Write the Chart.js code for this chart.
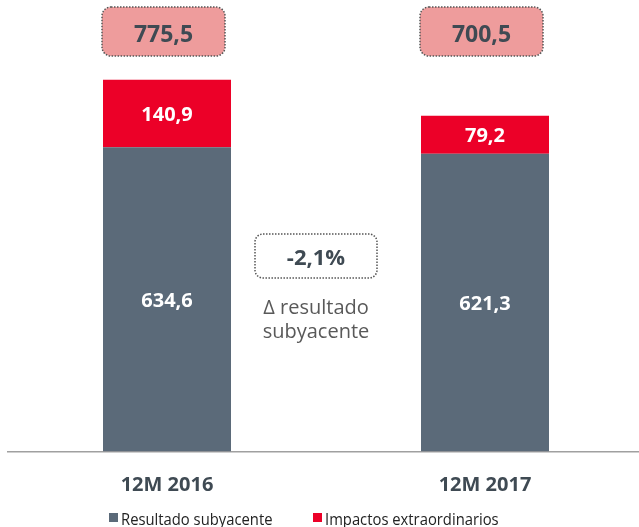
<!DOCTYPE html>
<html><head><meta charset="utf-8">
<script src="https://cdn.jsdelivr.net/npm/chart.js@4/dist/chart.umd.min.js"></script>
<style>html,body{margin:0;padding:0;overflow:hidden;background:#fff;width:639px;height:527px}canvas{display:block}</style>
</head><body>
<canvas id="c" width="650" height="527"></canvas>
<script>
const categories = ['12M 2016', '12M 2017'];
const resultadoSubyacente = [634.6, 621.3];
const impactosExtraordinarios = [140.9, 79.2];
const seriesNames = ['Resultado subyacente', 'Impactos extraordinarios'];
const deltaLines = ['Δ resultado', 'subyacente'];

const GRAY = '#5B6A79', RED = '#EC0028', PINK = '#EE9C9C', DARK = '#3F4A53';
const fmt = v => v.toFixed(1).replace('.', ',');

function roundRect(ctx, x, y, w, h, r) {
  ctx.beginPath();
  ctx.moveTo(x + r, y);
  ctx.arcTo(x + w, y, x + w, y + h, r);
  ctx.arcTo(x + w, y + h, x, y + h, r);
  ctx.arcTo(x, y + h, x, y, r);
  ctx.arcTo(x, y, x + w, y, r);
  ctx.closePath();
}

const annot = {
  id: 'annot',
  afterDatasetsDraw(chart) {
    const ctx = chart.ctx;
    const ds = chart.data.datasets;
    const m0 = chart.getDatasetMeta(0), m1 = chart.getDatasetMeta(1);
    ctx.save();
    // segment labels
    ctx.fillStyle = '#fff';
    ctx.font = 'bold 20px "Open Sans"';
    ctx.textAlign = 'center';
    ctx.textBaseline = 'alphabetic';
    [m0, m1].forEach((m, di) => {
      m.data.forEach((bar, i) => {
        const cy = (bar.y + bar.base) / 2;
        ctx.fillText(fmt(ds[di].data[i]), bar.x, cy + 7.5);
      });
    });
    // total boxes
    const area = chart.chartArea;
    m1.data.forEach((bar, i) => {
      const total = ds[0].data[i] + ds[1].data[i];
      const cx = bar.x - 3.5, w = 123, h = 49, top = area.top + 7;
      roundRect(ctx, cx - w / 2, top, w, h, 9);
      ctx.fillStyle = PINK;
      ctx.fill();
      ctx.setLineDash([1.5, 1.5]);
      ctx.lineWidth = 1.5;
      ctx.strokeStyle = '#555';
      ctx.stroke();
      ctx.setLineDash([]);
      ctx.fillStyle = DARK;
      ctx.font = 'bold 23px "Open Sans"';
      ctx.fillText(fmt(total), cx, top + 35);
    });
    // delta box
    const a = ds[0].data[0], b = ds[0].data[1];
    const delta = fmt((b - a) / a * 100) + '%';
    const cx = (m0.data[0].x + m0.data[1].x) / 2 - 10;
    roundRect(ctx, cx - 61, 234, 122, 44, 8);
    ctx.fillStyle = '#fff';
    ctx.fill();
    ctx.setLineDash([1.5, 1.5]);
    ctx.lineWidth = 1.5;
    ctx.strokeStyle = '#555';
    ctx.stroke();
    ctx.setLineDash([]);
    ctx.fillStyle = DARK;
    ctx.font = 'bold 22px "Open Sans"';
    ctx.fillText(delta, cx, 265);
    ctx.fillStyle = '#595959';
    ctx.font = '20px "Open Sans"';
    ctx.fillText(deltaLines[0], cx, 314);
    ctx.fillText(deltaLines[1], cx, 338);
    // legend
    ctx.textAlign = 'left';
    ctx.font = '16px "Open Sans"';
    const sx = 0.925;
    const starts = [109, 313];
    ds.forEach((d, i) => {
      const x = starts[i];
      ctx.fillStyle = d.backgroundColor;
      ctx.fillRect(x, 513, 9, 9);
      ctx.save();
      ctx.translate(x + 12, 525);
      ctx.scale(sx, 1);
      ctx.fillStyle = '#222';
      ctx.fillText(d.label, 0, 0);
      ctx.restore();
    });
    ctx.restore();
  }
};

new Chart(document.getElementById('c'), {
  type: 'bar',
  data: {
    labels: categories,
    datasets: [
      { label: seriesNames[0], data: resultadoSubyacente, backgroundColor: GRAY },
      { label: seriesNames[1], data: impactosExtraordinarios, backgroundColor: RED }
    ]
  },
  options: {
    responsive: false,
    animation: false,
    events: [],
    layout: { padding: { left: 8, right: 6, top: 0, bottom: 7.5 } },
    categoryPercentage: 1,
    barPercentage: 0.4025,
    plugins: { legend: { display: false }, tooltip: { enabled: false } },
    scales: {
      x: {
        stacked: true,
        grid: { display: false, drawTicks: false },
        border: { display: true, color: '#A0A0A0', width: 1.5 },
        ticks: { color: DARK, padding: 22, font: { family: 'Open Sans', size: 20, weight: 'bold' } }
      },
      y: { stacked: true, display: false, min: 0, max: 942 }
    }
  },
  plugins: [annot]
});
</script>
</body></html>
